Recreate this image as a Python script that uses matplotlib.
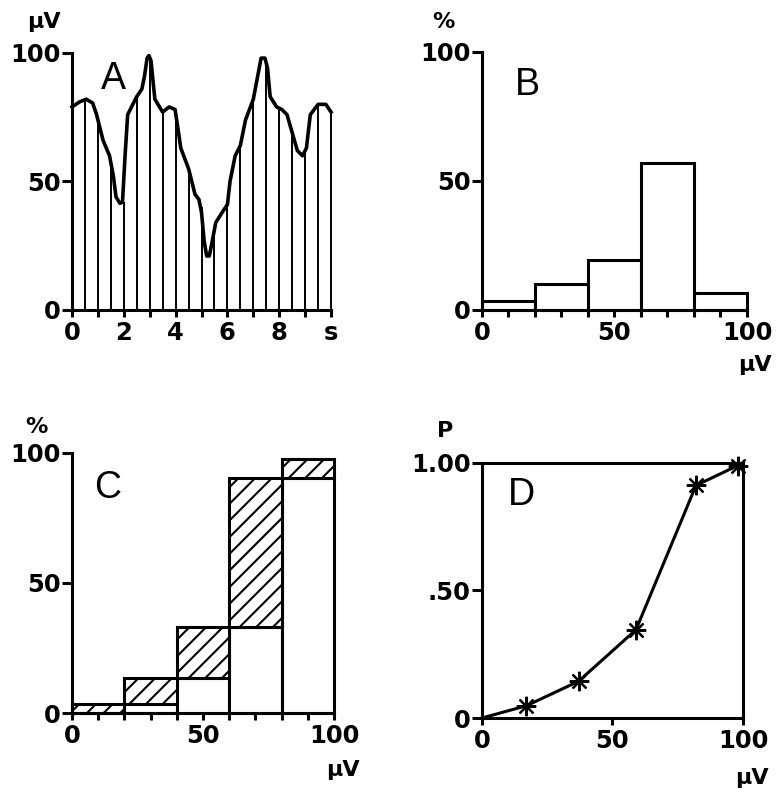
import numpy as np
import matplotlib
matplotlib.use("Agg")
import matplotlib.pyplot as plt

plt.rcParams["font.family"] = ["DejaVu Sans"]
plt.rcParams["font.weight"] = "bold"
plt.rcParams["hatch.linewidth"] = 1.5

# ---------------- data ----------------
# A: amplitude trace (uV) over time (s)
trace_t = [0, 0.3, 0.55, 0.8, 0.95, 1.05, 1.2, 1.45, 1.6, 1.7, 1.85, 1.95, 2.05, 2.15,
           2.5, 2.7, 2.8, 2.9, 2.97, 3.05, 3.12, 3.2, 3.5, 3.75, 3.98, 4.1, 4.2, 4.5,
           4.75, 4.9, 5.0, 5.1, 5.2, 5.3, 5.4, 5.55, 5.8, 6.0, 6.1, 6.3, 6.5, 6.7, 7.0,
           7.15, 7.3, 7.45, 7.55, 7.65, 7.9, 8.1, 8.3, 8.5, 8.7, 8.9, 9.05, 9.2, 9.5,
           9.8, 10]
trace_v = [79, 81, 82, 80.5, 76, 72, 66, 60, 52, 44, 41.5, 42, 60, 76,
           83, 86, 91, 98, 99, 97, 90, 82, 77, 79, 78, 70, 63, 55,
           45, 43, 38, 27, 21, 21, 26, 34, 38, 41, 50, 60, 64, 74, 82,
           90, 98, 98, 94, 83, 79, 78, 76, 69, 62, 60, 63, 76, 80,
           80, 77]
sample_t = [0, 0.5, 1, 1.5, 2, 2.5, 3, 3.5, 4, 4.5, 5, 5.5, 6, 6.5, 7, 7.5, 8, 8.5, 9, 9.5, 10]
sample_v = [79, 82, 74, 57, 42, 83, 98, 77, 78, 55, 40, 32, 41, 64, 82, 96, 78, 69, 61, 80, 77]

# B: amplitude histogram (%)
bin_left = [0, 20, 40, 60, 80]
hist_pct = [3.5, 10, 19.5, 57, 6.5]

# C: cumulative histogram (%)
cum_prev = [0, 3.5, 13.5, 33, 90.5]
cum_pct = [3.5, 13.5, 33, 90.5, 97.5]

# D: cumulative probability
prob_x = [0, 17, 37, 59, 82, 98]
prob_y = [0, 0.048, 0.144, 0.346, 0.912, 0.99]

a_ticks = list(range(11))
a_ticklabels = ["0", "", "2", "", "4", "", "6", "", "8", "", "s"]
uv_ticklabels = ["0", "", "", "", "", "50", "", "", "", "", "100"]

TICK_FS = 17.5
UNIT_FS = 16
LETTER_FS = 27
LW = 2.2
LETTER_FONT = dict(fontsize=LETTER_FS, family="Liberation Sans", fontweight="normal",
                   ha="center", va="center")
UNIT_FONT = dict(fontsize=UNIT_FS, ha="center", va="center")

fig = plt.figure(figsize=(7.78, 7.94), dpi=100)
axA = fig.add_axes([0.0925, 0.6096, 0.333, 0.3237])
axB = fig.add_axes([0.6195, 0.6096, 0.3406, 0.325])
axC = fig.add_axes([0.0925, 0.102, 0.3368, 0.3275])
axD = fig.add_axes([0.6195, 0.0957, 0.3355, 0.3212])


def style(ax, box=False):
    for s in ["left", "bottom"]:
        ax.spines[s].set_linewidth(LW)
    for s in ["top", "right"]:
        ax.spines[s].set_visible(box)
        ax.spines[s].set_linewidth(LW)
    ax.tick_params(axis="y", direction="out", length=7, width=LW, labelsize=TICK_FS, pad=1)
    ax.tick_params(axis="x", direction="out", length=5, width=LW, labelsize=TICK_FS, pad=3)


# ---------------- A ----------------
axA.vlines(sample_t, 0, sample_v, color="black", lw=1.4, clip_on=False)
axA.plot(trace_t, trace_v, color="black", lw=2.6, clip_on=False)
axA.set_xlim(0, 10)
axA.set_ylim(0, 100)
axA.set_xticks(a_ticks)
axA.set_xticklabels(a_ticklabels)
axA.set_yticks([0, 50, 100])
style(axA)
axA.text(1.6, 90, "A", **LETTER_FONT)
axA.text(-0.108, 1.12, "μV", transform=axA.transAxes, **UNIT_FONT)

# ---------------- B ----------------
axB.bar(bin_left, hist_pct, width=20, align="edge", color="white", edgecolor="black",
        lw=LW, clip_on=False)
axB.set_xlim(0, 100)
axB.set_ylim(0, 100)
axB.set_xticks(range(0, 101, 10))
axB.set_xticklabels(uv_ticklabels)
axB.set_yticks([0, 50, 100])
style(axB)
axB.text(17, 87, "B", **LETTER_FONT)
axB.text(-0.147, 1.116, "%", transform=axB.transAxes, **UNIT_FONT)
axB.text(1.03, -0.213, "μV", transform=axB.transAxes, **UNIT_FONT)

# ---------------- C ----------------
axC.bar(bin_left, cum_prev, width=20, align="edge", color="white", edgecolor="black",
        lw=LW, clip_on=False)
hist_c = np.array(cum_pct) - np.array(cum_prev)
axC.bar(bin_left, hist_c, bottom=cum_prev, width=20, align="edge", color="white",
        edgecolor="black", hatch="//", lw=LW, clip_on=False)
axC.set_xlim(0, 100)
axC.set_ylim(0, 100)
axC.set_xticks(range(0, 101, 10))
axC.set_xticklabels(uv_ticklabels)
axC.set_yticks([0, 50, 100])
style(axC)
axC.text(13.7, 86.5, "C", **LETTER_FONT)
axC.text(-0.134, 1.10, "%", transform=axC.transAxes, **UNIT_FONT)
axC.text(1.034, -0.22, "μV", transform=axC.transAxes, **UNIT_FONT)

# ---------------- D ----------------
axD.plot(prob_x, prob_y, color="black", lw=2.2, clip_on=False)
axD.plot(prob_x[1:], prob_y[1:], ls="none", marker=(8, 2, 0), ms=14, mew=1.6,
         color="black", clip_on=False)
axD.set_xlim(0, 100)
axD.set_ylim(0, 1)
axD.set_xticks([0, 50, 100])
axD.set_xticklabels(["0", "50", "100"])
axD.set_yticks([0, 0.5, 1.0])
axD.set_yticklabels(["0", ".50", "1.00"])
style(axD, box=True)
axD.text(15.3, 0.875, "D", **LETTER_FONT)
axD.text(-0.142, 1.125, "P", transform=axD.transAxes, **UNIT_FONT)
axD.text(1.034, -0.235, "μV", transform=axD.transAxes, **UNIT_FONT)

fig.savefig("out.png", dpi=100)
